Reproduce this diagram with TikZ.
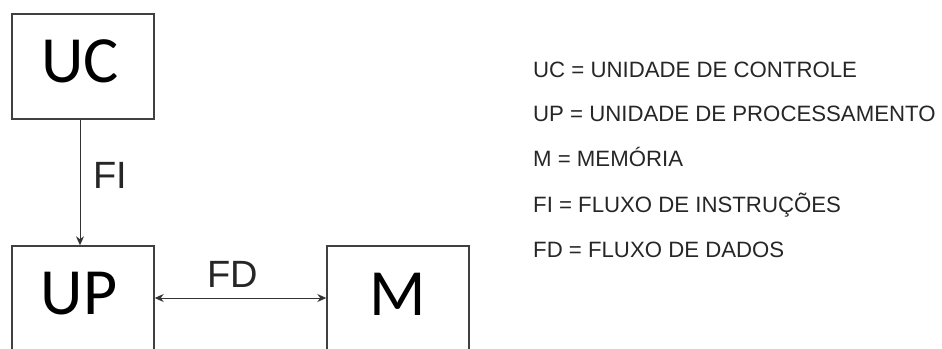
\documentclass[tikz,border=0pt]{standalone}
\usepackage{fontspec}
\setmainfont{Liberation Sans}
\newfontfamily\boxfont{Carlito}
\usetikzlibrary{arrows.meta}
\begin{document}
\begin{tikzpicture}[x=1pt,y=-1pt,
  unitbox/.style={draw=black!75,line width=1.4pt,rectangle,minimum width=142pt,inner sep=0pt},
  boxlabel/.style={font=\boxfont\fontsize{66}{66}\selectfont,anchor=base,inner sep=0pt},
  flowlabel/.style={font=\fontsize{38}{38}\selectfont,anchor=base west,inner sep=0pt,text=black!85},
  legend/.style={font=\fontsize{22.2}{22.2}\selectfont,anchor=base west,inner sep=0pt,text=black!85},
  flow/.style={draw=black!80,line width=1pt,-{Stealth[length=9pt,width=8pt]}},
  dflow/.style={draw=black!80,line width=1pt,{Stealth[length=9pt,width=8pt]}-{Stealth[length=9pt,width=8pt]}}]
\useasboundingbox (0,0) rectangle (942,348);
\clip (0,0) rectangle (942,348);
\node[unitbox,minimum height=105pt] (UC) at (83,66.5) {};
\node[unitbox,minimum height=130pt] (UP) at (83,311) {};
\node[unitbox,minimum height=130pt] (M) at (398,311) {};
\node[boxlabel] (tUC) at (80,82) {UC};
\node[boxlabel] (tUP) at (79,314) {UP};
\node[boxlabel] (tM) at (397.5,315) {M};
\draw[flow] ([xshift=-3pt]UC.south) -- ([xshift=-3pt]UP.north);
\coordinate (fdy) at (0,298);
\draw[dflow] (UP.east |- fdy) -- (M.west |- fdy);
\node[flowlabel] (FI) at (93,188) {FI};
\node[flowlabel] (FD) at (207,287) {FD};
\node[legend] (l1) at (533,77) {UC = UNIDADE DE CONTROLE};
\node[legend] (l2) at (533,121.5) {UP = UNIDADE DE PROCESSAMENTO};
\node[legend] (l3) at (533,166) {M = MEMÓRIA};
\node[legend] (l4) at (533,212) {FI = FLUXO DE INSTRUÇÕES};
\node[legend] (l5) at (533,257.5) {FD = FLUXO DE DADOS};
\end{tikzpicture}
\end{document}
